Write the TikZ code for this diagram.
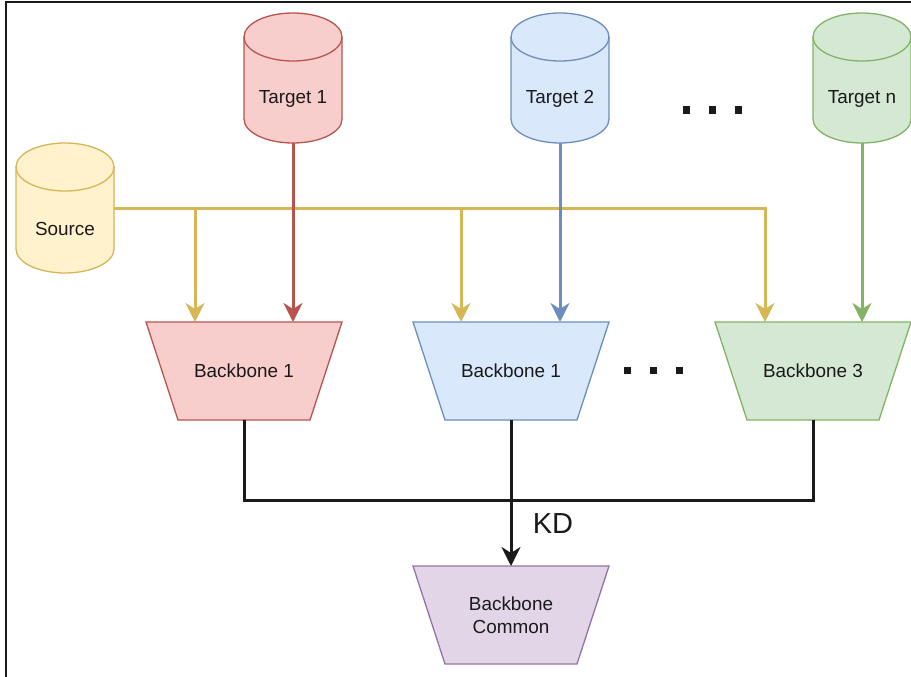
\documentclass[tikz,border=0pt]{standalone}
\usepackage{fontspec}
\setmainfont{Liberation Sans}
\usetikzlibrary{calc,arrows.meta}

\definecolor{ink}{HTML}{1A1A1A}
\definecolor{redfill}{HTML}{F8CECC}\definecolor{redline}{HTML}{B85450}
\definecolor{bluefill}{HTML}{DAE8FC}\definecolor{blueline}{HTML}{6C8EBF}
\definecolor{greenfill}{HTML}{D5E8D4}\definecolor{greenline}{HTML}{82B366}
\definecolor{yelfill}{HTML}{FFF2CC}\definecolor{yelline}{HTML}{D6B656}
\definecolor{purfill}{HTML}{E1D5E7}\definecolor{purline}{HTML}{9673A6}

\tikzset{
  lbl/.style={font=\fontsize{18.9}{22.7}\selectfont, text=ink, align=center, inner sep=0pt},
  shapeline/.style={line width=1.3pt},
  holder/.style={minimum width=#1, inner sep=0pt, outer sep=0pt, anchor=north},
  flow/.style={line width=3pt, draw=#1, -{Stealth[length=19pt,width=19pt,inset=6pt]}},
  link/.style={line width=3pt, draw=ink},
  dotsq/.style={rectangle, fill=ink, minimum size=7pt, inner sep=0pt},
}

% database cylinder: name, centre x, top y, fill, stroke, label
\newcommand{\dbcyl}[6]{%
  \node[holder=98pt, minimum height=130pt] (#1) at (#2,#3) {};
  \filldraw[fill=#4, draw=#5, shapeline]
    ($(#1.north west)+(0,-24)$) -- ($(#1.south west)+(0,24)$)
    arc[start angle=180, end angle=360, x radius=49pt, y radius=24pt]
    -- ($(#1.north east)+(0,-24)$)
    arc[start angle=0, end angle=180, x radius=49pt, y radius=24pt] -- cycle;
  \draw[draw=#5, shapeline] ($(#1.north west)+(0,-24)$)
    arc[start angle=180, end angle=360, x radius=49pt, y radius=24pt];
  \node[lbl] (#1l) at ($(#1.north)+(0,-86)$) {#6};
}

% backbone trapezoid: name, centre x, top y, fill, stroke, label
\newcommand{\bbone}[6]{%
  \node[holder=196pt, minimum height=98pt] (#1) at (#2,#3) {};
  \filldraw[fill=#4, draw=#5, shapeline]
    (#1.north west) -- (#1.north east) -- ($(#1.south east)+(-32,0)$)
    -- ($(#1.south west)+(32,0)$) -- cycle;
  \node[lbl] (#1l) at (#1) {#6};
}

\begin{document}
\begin{tikzpicture}[x=1pt, y=1pt]
\useasboundingbox (0,0) rectangle (911,-677);

% frame
\draw[line width=2pt, draw=ink] (5.5,-677) -- (5.5,-2) -- (911,-2);

% data sources
\dbcyl{src}{65}{-143}{yelfill}{yelline}{Source}
\dbcyl{t1}{293}{-13}{redfill}{redline}{Target 1}
\dbcyl{t2}{560}{-13}{bluefill}{blueline}{Target 2}
\dbcyl{tn}{862}{-13}{greenfill}{greenline}{Target n}

% backbones
\bbone{bb1}{244}{-322}{redfill}{redline}{Backbone 1}
\bbone{bb2}{511}{-322}{bluefill}{blueline}{Backbone 1}
\bbone{bb3}{813}{-322}{greenfill}{greenline}{Backbone 3}
\bbone{com}{511}{-566}{purfill}{purline}{Backbone\\Common}

% ellipsis marks
\node[dotsq] (d1) at (686,-110) {};
\node[dotsq] (d2) at (712,-110) {};
\node[dotsq] (d3) at (738,-110) {};
\node[dotsq] (e1) at (627,-370) {};
\node[dotsq] (e2) at (653,-370) {};
\node[dotsq] (e3) at (679,-370) {};

% source feed to every backbone
\coordinate (j1) at ($(bb1.north)+(-49,0)$);
\coordinate (j2) at ($(bb2.north)+(-50,0)$);
\coordinate (j3) at ($(bb3.north)+(-48,0)$);
\draw[flow=yelline] (src.east) -| (j3);
\draw[flow=yelline] (j1 |- src.east) -- (j1);
\draw[flow=yelline] (j2 |- src.east) -- (j2);

% target feeds
\draw[flow=redline] (t1.south) -- (t1.south |- bb1.north);
\draw[flow=blueline] (t2.south) -- (t2.south |- bb2.north);
\draw[flow=greenline] (tn.south) -- (tn.south |- bb3.north);

% distillation into the common backbone
\coordinate (kd) at (511,-500);
\draw[link] (bb1.south) |- (kd) -| (bb3.south);
\draw[link] (bb2.south) -- (kd);
\draw[flow=ink] (kd) -- (com.north);
\node[font=\fontsize{29}{34}\selectfont, text=ink, inner sep=0pt] (kdl) at (553,-524) {KD};
\end{tikzpicture}
\end{document}
